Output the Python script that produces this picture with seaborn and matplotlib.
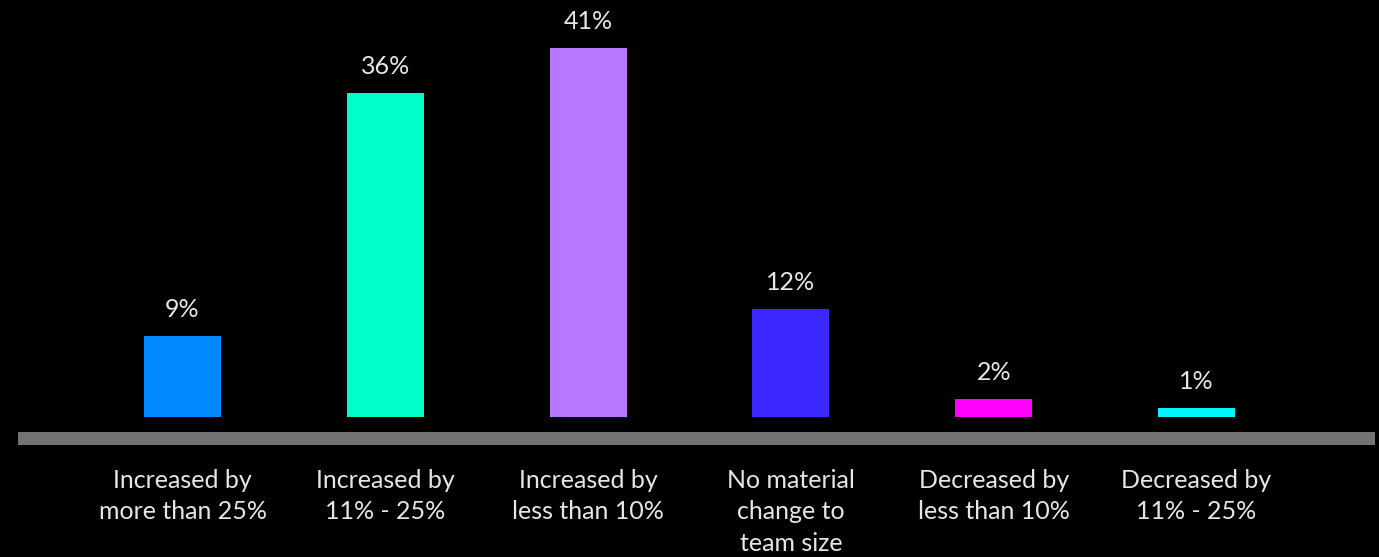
import matplotlib
matplotlib.use("Agg")
import matplotlib.pyplot as plt
import seaborn as sns
import pandas as pd

categories = [
    "Increased by\nmore than 25%",
    "Increased by\n11% - 25%",
    "Increased by\nless than 10%",
    "No material\nchange to\nteam size",
    "Decreased by\nless than 10%",
    "Decreased by\n11% - 25%",
]
values = [9, 36, 41, 12, 2, 1]
colors = ["#0088FF", "#00FFC8", "#B877FF", "#3A28FF", "#FF00FF", "#00F6FF"]

sns.set_theme(style="white")
plt.rcParams["font.family"] = ["Lato", "DejaVu Sans"]

fig = plt.figure(figsize=(13.79, 5.57), dpi=100, facecolor="black")
ax = fig.add_axes([0, 0, 1, 1])
ax.set_facecolor("black")

df = pd.DataFrame({"category": categories, "value": values})
sns.barplot(data=df, x="category", y="value", hue="category",
            palette=colors, legend=False, width=0.38, saturation=1,
            ax=ax, linewidth=0)

ax.set_xlim(-0.9, 5.9)
ax.set_ylim(-140 / 9, 417 / 9)

# grey baseline strip beneath the bars
ax.axhspan(-28 / 9, -15 / 9, xmin=18 / 1379, xmax=1375 / 1379,
           color="#737373", lw=0)

for i, v in enumerate(values):
    ax.annotate(f"{v}%", (i, v), xytext=(0, 13.5), textcoords="offset points",
                ha="center", va="baseline", color="#E6E6E6", fontsize=18)

for i, c in enumerate(categories):
    ax.text(i, -5.75, c, ha="center", va="top", color="#E6E6E6",
            fontsize=18, linespacing=1.45)

ax.axis("off")
fig.savefig("out.png", dpi=100, facecolor="black")
